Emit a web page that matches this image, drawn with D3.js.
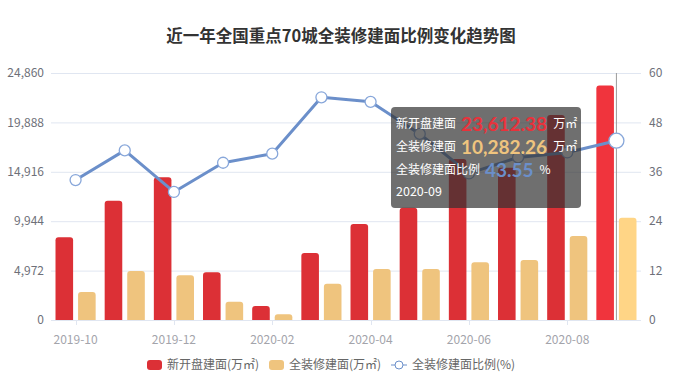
<!DOCTYPE html>
<html>
<head>
<meta charset="utf-8">
<script src="https://cdn.jsdelivr.net/npm/d3@7"></script>
<style>
html,body{margin:0;padding:0;background:#fff;}
svg{display:block;font-family:"Microsoft YaHei","Noto Sans CJK SC","Noto Sans",sans-serif;}
</style>
</head>
<body>
<svg id="chart" width="692" height="389"></svg>
<script>
const months = ["2019-10","2019-11","2019-12","2020-01","2020-02","2020-03","2020-04","2020-05","2020-06","2020-07","2020-08","2020-09"];
const newArea = [8320, 12010, 14360, 4800, 1410, 6740, 9660, 11300, 16200, 15330, 20630, 23612.38];
const fullArea = [2820, 4930, 4500, 1840, 575, 3650, 5130, 5130, 5800, 6040, 8450, 10282.26];
const ratio = [34.0, 41.2, 31.1, 38.2, 40.4, 54.1, 53.0, 45.2, 35.6, 39.5, 40.7, 43.55];
const leftTicks = [0, 4972, 9944, 14916, 19888, 24860];
const rightTicks = [0, 12, 24, 36, 48, 60];
const seriesNames = ["新开盘建面(万㎡)", "全装修建面(万㎡)", "全装修建面比例(%)"];
const hoverIndex = 11;

const svg = d3.select("#chart");
const W = 692, H = 389;
const m = {l: 51, r: 51, t: 73, b: 69};
const x = d3.scaleBand().domain(months).range([m.l, W - m.r]);
const xs = d3.scaleBand().domain(["a","b"]).range([0, x.bandwidth()]).paddingInner(0.22).paddingOuter(0.2);
const yL = d3.scaleLinear().domain([0, 24860]).range([H - m.b, m.t]);
const yR = d3.scaleLinear().domain([0, 60]).range([H - m.b, m.t]);

const COL = {red:"#dc3036", redH:"#f0343d", org:"#efc47e", orgH:"#ffd586", line:"#6b8fca", pt:"#88a7da"};

// title
svg.append("text").attr("x", 341).attr("y", 42).attr("text-anchor","middle")
  .attr("font-size", 16.5).attr("font-weight","bold").attr("fill","#333").text("近一年全国重点70城全装修建面比例变化趋势图");

// grid lines
svg.append("g").selectAll("line").data(leftTicks).join("line")
  .attr("x1", m.l).attr("x2", W - m.r)
  .attr("y1", d => yL(d) + 0.5).attr("y2", d => yL(d) + 0.5)
  .attr("stroke", "#e0e6f1");

// left axis labels
svg.append("g").selectAll("text").data(leftTicks).join("text")
  .attr("x", m.l - 7).attr("y", d => yL(d)).attr("dy","0.35em").attr("text-anchor","end")
  .attr("font-size", 12).attr("fill", "#6e7079").text(d => d3.format(",")(d));
// right axis labels
svg.append("g").selectAll("text").data(rightTicks).join("text")
  .attr("x", W - m.r + 8).attr("y", d => yR(d)).attr("dy","0.35em").attr("text-anchor","start")
  .attr("font-size", 12).attr("fill", "#6e7079").text(d => d);

// x axis
const xAxis = svg.append("g");
xAxis.append("line").attr("x1", m.l).attr("x2", W - m.r).attr("y1", yL(0)+0.5).attr("y2", yL(0)+0.5).attr("stroke","#e0e6f1");
const shown = months.filter((d,i) => i % 2 === 0);
xAxis.selectAll("line.t").data(shown).join("line").attr("class","t")
  .attr("x1", d => Math.round(x(d) + x.bandwidth()/2)+0.5).attr("x2", d => Math.round(x(d) + x.bandwidth()/2)+0.5)
  .attr("y1", yL(0)).attr("y2", yL(0)+5).attr("stroke","#e0e6f1");
xAxis.selectAll("text").data(shown).join("text")
  .attr("x", d => x(d) + x.bandwidth()/2).attr("y", yL(0) + 20).attr("dy","0.35em")
  .attr("text-anchor","middle").attr("font-size", 12).attr("fill","#a3a4ab").text(d => d);

// axis pointer
const cx = x(months[hoverIndex]) + x.bandwidth()/2;
svg.append("line").attr("x1", cx).attr("x2", cx).attr("y1", m.t).attr("y2", yL(0))
  .attr("stroke", "#9a9a9a").attr("stroke-width", 1);

function topRounded(x0, y0, w, h, r) {
  r = Math.min(r, h, w/2);
  return `M${x0},${y0+h}V${y0+r}Q${x0},${y0} ${x0+r},${y0}H${x0+w-r}Q${x0+w},${y0} ${x0+w},${y0+r}V${y0+h}Z`;
}

// bars
const bars = svg.append("g");
bars.selectAll("path.r").data(newArea).join("path").attr("class","r")
  .attr("d", (d,i) => topRounded(x(months[i]) + xs("a"), yL(d), xs.bandwidth(), yL(0) - yL(d), 3))
  .attr("fill", (d,i) => i === hoverIndex ? COL.redH : COL.red);
bars.selectAll("path.o").data(fullArea).join("path").attr("class","o")
  .attr("d", (d,i) => topRounded(x(months[i]) + xs("b"), yL(d), xs.bandwidth(), yL(0) - yL(d), 3))
  .attr("fill", (d,i) => i === hoverIndex ? COL.orgH : COL.org);

// line
const line = d3.line().x((d,i) => x(months[i]) + x.bandwidth()/2).y(d => yR(d));
svg.append("path").datum(ratio).attr("d", line).attr("fill","none")
  .attr("stroke", COL.line).attr("stroke-width", 3).attr("stroke-linejoin","round");
svg.append("g").selectAll("circle").data(ratio).join("circle")
  .attr("cx", (d,i) => x(months[i]) + x.bandwidth()/2).attr("cy", d => yR(d))
  .attr("r", (d,i) => i === hoverIndex ? 7.5 : 5.5)
  .attr("fill", "#fff").attr("stroke", COL.pt).attr("stroke-width", 1.3);

// legend
const lg = svg.append("g").attr("font-size", 12).attr("fill", "#666");
const ly = 365;
lg.append("rect").attr("x", 147).attr("y", ly - 5).attr("width", 15).attr("height", 10).attr("rx", 3).attr("fill", COL.red);
lg.append("text").attr("x", 167).attr("y", ly).attr("dy","0.35em").attr("fill","#666").text(seriesNames[0]);
lg.append("rect").attr("x", 269).attr("y", ly - 5).attr("width", 15).attr("height", 10).attr("rx", 3).attr("fill", COL.org);
lg.append("text").attr("x", 289).attr("y", ly).attr("dy","0.35em").attr("fill","#666").text(seriesNames[1]);
lg.append("line").attr("x1", 391).attr("x2", 407).attr("y1", ly).attr("y2", ly).attr("stroke", COL.line).attr("stroke-width", 1);
lg.append("circle").attr("cx", 399).attr("cy", ly).attr("r", 4).attr("fill","#fff").attr("stroke", COL.line).attr("stroke-width", 1);
lg.append("text").attr("x", 412).attr("y", ly).attr("dy","0.35em").attr("fill","#666").text(seriesNames[2]);

// tooltip
const tt = svg.append("g");
tt.append("rect").attr("x", 391).attr("y", 107).attr("width", 190).attr("height", 101).attr("rx", 4)
  .attr("fill", "rgba(50,50,50,0.7)");
const fmt = d3.format(",.2f");
const rows = [
  {label:"新开盘建面", val: fmt(newArea[hoverIndex]), unit:"万㎡", col:"#e8323b", y:124},
  {label:"全装修建面", val: fmt(fullArea[hoverIndex]), unit:"万㎡", col:"#efc47e", y:147},
  {label:"全装修建面比例", val: ratio[hoverIndex].toFixed(2), unit:"%", col:"#6b8fca", y:170}
];
rows.forEach(r => {
  const lab = tt.append("text").attr("x", 396).attr("y", r.y).attr("dy","0.35em").attr("fill","#fff").attr("font-size", 12).text(r.label);
  const lw = lab.node().getComputedTextLength();
  const num = tt.append("text").attr("x", 396 + lw + 5).attr("y", r.y).attr("dy","0.36em")
    .attr("font-family","Lato, 'Open Sans', sans-serif").attr("font-size", 19).attr("font-weight","bold")
    .attr("fill", r.col).text(r.val);
  const nw = num.node().getComputedTextLength();
  tt.append("text").attr("x", 396 + lw + 5 + nw + 6).attr("y", r.y).attr("dy","0.35em").attr("fill","#fff").attr("font-size", 12).text(r.unit);
});
tt.append("text").attr("x", 396).attr("y", 192).attr("dy","0.35em").attr("fill","#fff").attr("font-size", 12.5).text(months[hoverIndex]);
</script>
</body>
</html>
